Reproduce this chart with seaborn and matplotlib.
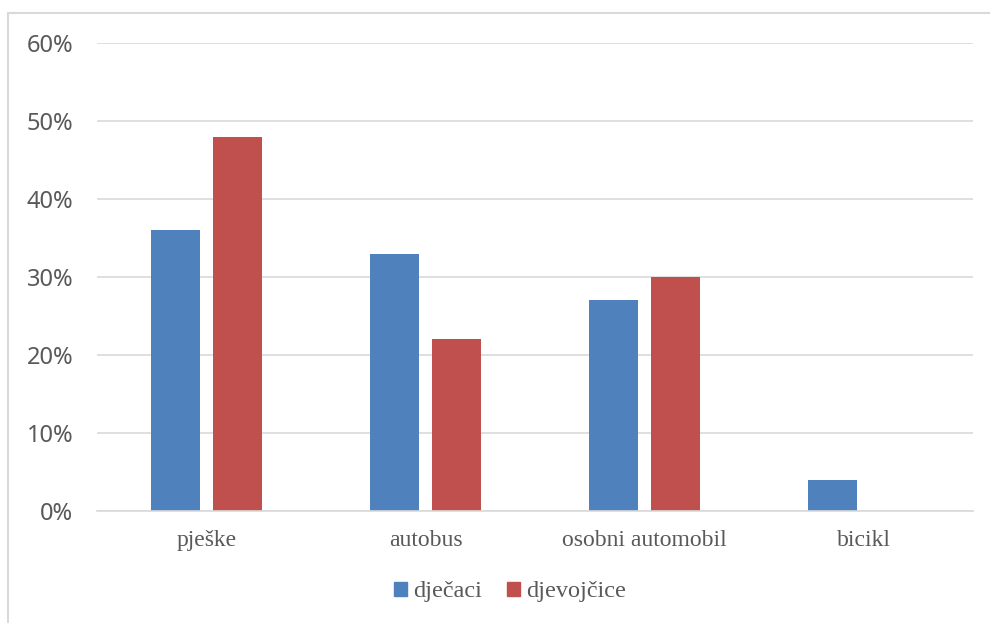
import pandas as pd
import matplotlib.pyplot as plt
import seaborn as sns
from matplotlib.patches import Rectangle, Patch
from matplotlib.ticker import PercentFormatter

categories = ['pješke', 'autobus', 'osobni automobil', 'bicikl']
djecaci = [36, 33, 27, 4]
djevojcice = [48, 22, 30, 0]
series = ['dječaci', 'djevojčice']
colors = ['#4F81BD', '#C0504D']

df = pd.DataFrame({
    'kategorija': categories * 2,
    'postotak': djecaci + djevojcice,
    'spol': [series[0]] * 4 + [series[1]] * 4,
})

sns.set_style('white')
serif = ['Liberation Serif', 'DejaVu Serif']

fig = plt.figure(figsize=(9.9, 6.23), dpi=100)
ax = fig.add_axes([97 / 990, 1 - 511 / 623, 876 / 990, 468 / 623])

sns.barplot(data=df, x='kategorija', y='postotak', hue='spol',
            palette=colors, saturation=1, width=0.575, gap=0.222, linewidth=0,
            legend=False, ax=ax)

ax.set_xlim(-0.5, 3.5)
ax.set_ylim(0, 60)
ax.set_yticks(range(0, 61, 10))
ax.yaxis.set_major_formatter(PercentFormatter(decimals=0))
ax.grid(axis='y', color='#d9d9d9', linewidth=1.2)
ax.set_axisbelow(True)
for s in ['top', 'left', 'right']:
    ax.spines[s].set_visible(False)
ax.spines['bottom'].set_color('#d9d9d9')
ax.spines['bottom'].set_linewidth(1.2)
ax.tick_params(axis='y', length=0, pad=17, labelsize=17, labelcolor='#595959')
ax.tick_params(axis='x', length=0, pad=14, labelsize=17, labelcolor='#595959')
for lab in ax.get_yticklabels():
    lab.set_family(['Noto Sans', 'DejaVu Sans'])
for lab in ax.get_xticklabels():
    lab.set_family(serif)
ax.set_xlabel('')
ax.set_ylabel('')

handles = [Patch(color=c, label=s) for c, s in zip(colors, series)]
leg = fig.legend(handles=handles, loc='center', bbox_to_anchor=(510 / 990, 1 - 592 / 623),
                 ncol=2, frameon=False, handlelength=0.55, handleheight=0.55,
                 handletextpad=0.25, columnspacing=1.0, fontsize=17.5)
for t in leg.get_texts():
    t.set_family(serif)
    t.set_color('#595959')

fig.patches.append(Rectangle((8 / 990, -0.05), 1.05, 1 - 13 / 623 + 0.05,
                             transform=fig.transFigure, fill=False,
                             edgecolor='#d9d9d9', linewidth=1.5))

fig.savefig('out.png', dpi=100)
